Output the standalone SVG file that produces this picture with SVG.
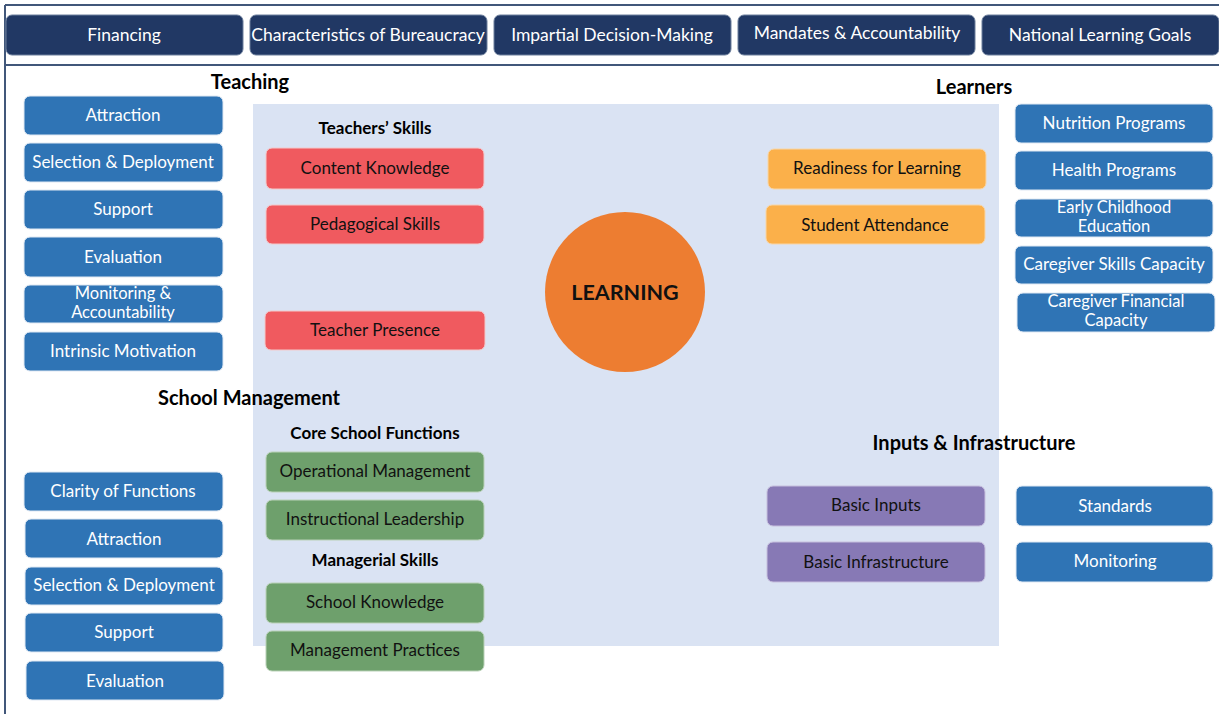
<svg xmlns="http://www.w3.org/2000/svg" width="1219" height="714" viewBox="0 0 1219 714">
  <style>
    text { font-family: Lato, "Liberation Sans", sans-serif; text-anchor: middle; dominant-baseline: central; }
    .top rect { fill: #213864; stroke: #6d7f9c; stroke-width: 1; }
    .top text { fill: #ffffff; font-size: 17.5px; }
    .blue rect { fill: #2f74b5; stroke: #dfe8f3; stroke-width: 1; }
    .blue text { fill: #ffffff; font-size: 17px; }
    .blue text.two { font-size: 16.5px; }
    .red rect { fill: #f05a5f; stroke: #f3c9cb; stroke-width: 1; }
    .orange rect { fill: #fbb04a; stroke: #f8d6a7; stroke-width: 1; }
    .green rect { fill: #6ea06c; stroke: #b9d1b7; stroke-width: 1; }
    .purple rect { fill: #8779b5; stroke: #c6bfdd; stroke-width: 1; }
    .dark text { fill: #111111; font-size: 17px; }
    .head { fill: #000000; font-size: 20px; font-weight: bold; }
    .sub { fill: #000000; font-size: 17px; font-weight: bold; }
    .frame { stroke: #41577a; stroke-width: 2; fill: none; }
  </style>

  <rect width="1219" height="714" fill="#ffffff"/>

  <!-- outer frame lines -->
  <g id="frame">
    <line class="frame" x1="5" y1="5" x2="1219" y2="5"/>
    <line class="frame" x1="5" y1="5" x2="5" y2="714"/>
    <line class="frame" x1="5" y1="65" x2="1219" y2="65"/>
  </g>

  <!-- system-level bar -->
  <g id="financing" class="top"><rect x="6" y="15" width="237" height="40" rx="6"/><text x="124" y="34">Financing</text></g>
  <g id="bureaucracy" class="top"><rect x="250" y="15" width="237" height="40" rx="6"/><text x="368" y="34">Characteristics of Bureaucracy</text></g>
  <g id="impartial" class="top"><rect x="494" y="15" width="237" height="40" rx="6"/><text x="612" y="34">Impartial Decision-Making</text></g>
  <g id="mandates" class="top"><rect x="738" y="15" width="237" height="40" rx="6"/><text x="857" y="32">Mandates &amp; Accountability</text></g>
  <g id="goals" class="top"><rect x="982" y="15" width="237" height="40" rx="6"/><text x="1100" y="34">National Learning Goals</text></g>

  <!-- central panel -->
  <rect id="panel" x="253" y="104" width="746" height="542" fill="#dae3f3"/>

  <!-- section headings -->
  <text class="head" x="250" y="81">Teaching</text>
  <text class="head" x="974" y="86">Learners</text>
  <text class="head" x="249" y="397">School Management</text>
  <text class="head" x="974" y="442">Inputs &amp; Infrastructure</text>
  <text class="sub" x="375" y="127">Teachers’ Skills</text>
  <text class="sub" x="375" y="432">Core School Functions</text>
  <text class="sub" x="375" y="559">Managerial Skills</text>

  <!-- Teaching: policy levers -->
  <g id="t-attraction" class="blue"><rect x="24" y="96" width="199" height="39" rx="6"/><text x="123" y="114">Attraction</text></g>
  <g id="t-selection" class="blue"><rect x="24" y="143" width="199" height="39" rx="6"/><text x="123" y="161">Selection &amp; Deployment</text></g>
  <g id="t-support" class="blue"><rect x="24" y="190" width="199" height="39" rx="6"/><text x="123" y="208">Support</text></g>
  <g id="t-evaluation" class="blue"><rect x="24" y="237" width="199" height="40" rx="6"/><text x="123" y="256">Evaluation</text></g>
  <g id="t-monitoring" class="blue"><rect x="24" y="285" width="199" height="38" rx="6"/><text class="two" x="123" y="293">Monitoring &amp;</text><text class="two" x="123" y="312">Accountability</text></g>
  <g id="t-motivation" class="blue"><rect x="24" y="332" width="199" height="39" rx="6"/><text x="123" y="350">Intrinsic Motivation</text></g>

  <!-- Teaching: practices -->
  <g id="content-knowledge" class="red dark"><rect x="266" y="148" width="218" height="41" rx="6"/><text x="375" y="167">Content Knowledge</text></g>
  <g id="pedagogical-skills" class="red dark"><rect x="266" y="205" width="218" height="39" rx="6"/><text x="375" y="223">Pedagogical Skills</text></g>
  <g id="teacher-presence" class="red dark"><rect x="265" y="311" width="220" height="39" rx="6"/><text x="375" y="329">Teacher Presence</text></g>

  <!-- centre -->
  <g id="learning">
    <circle cx="625" cy="292" r="80" fill="#ed7d31"/>
    <text x="625" y="292" style="font-size:21.5px;font-weight:bold;fill:#111111">LEARNING</text>
  </g>

  <!-- Learners: practices -->
  <g id="readiness" class="orange dark"><rect x="768" y="149" width="218" height="40" rx="6"/><text x="877" y="167">Readiness for Learning</text></g>
  <g id="attendance" class="orange dark"><rect x="766" y="205" width="219" height="39" rx="6"/><text x="875" y="224">Student Attendance</text></g>

  <!-- Learners: policy levers -->
  <g id="nutrition" class="blue"><rect x="1015" y="104" width="198" height="39" rx="6"/><text x="1114" y="122">Nutrition Programs</text></g>
  <g id="health" class="blue"><rect x="1015" y="151" width="198" height="39" rx="6"/><text x="1114" y="169">Health Programs</text></g>
  <g id="ecd" class="blue"><rect x="1015" y="199" width="198" height="38" rx="6"/><text class="two" x="1114" y="207">Early Childhood</text><text class="two" x="1114" y="226">Education</text></g>
  <g id="caregiver-skills" class="blue"><rect x="1015" y="246" width="198" height="38" rx="6"/><text x="1114" y="263">Caregiver Skills Capacity</text></g>
  <g id="caregiver-financial" class="blue"><rect x="1017" y="293" width="198" height="39" rx="6"/><text class="two" x="1116" y="301">Caregiver Financial</text><text class="two" x="1116" y="320">Capacity</text></g>

  <!-- School management: practices -->
  <g id="operational" class="green dark"><rect x="266" y="452" width="218" height="40" rx="6"/><text x="375" y="470">Operational Management</text></g>
  <g id="instructional" class="green dark"><rect x="266" y="500" width="218" height="40" rx="6"/><text x="375" y="518">Instructional Leadership</text></g>
  <g id="school-knowledge" class="green dark"><rect x="266" y="583" width="218" height="40" rx="6"/><text x="375" y="601">School Knowledge</text></g>
  <g id="management-practices" class="green dark"><rect x="266" y="631" width="218" height="40" rx="6"/><text x="375" y="649">Management Practices</text></g>

  <!-- School management: policy levers -->
  <g id="m-clarity" class="blue"><rect x="24" y="472" width="199" height="39" rx="6"/><text x="123" y="490">Clarity of Functions</text></g>
  <g id="m-attraction" class="blue"><rect x="25" y="519" width="198" height="39" rx="6"/><text x="124" y="538">Attraction</text></g>
  <g id="m-selection" class="blue"><rect x="25" y="567" width="198" height="38" rx="6"/><text x="124" y="584">Selection &amp; Deployment</text></g>
  <g id="m-support" class="blue"><rect x="25" y="613" width="198" height="39" rx="6"/><text x="124" y="631">Support</text></g>
  <g id="m-evaluation" class="blue"><rect x="26" y="661" width="198" height="39" rx="6"/><text x="125" y="680">Evaluation</text></g>

  <!-- Inputs & infrastructure: practices -->
  <g id="basic-inputs" class="purple dark"><rect x="767" y="486" width="218" height="40" rx="6"/><text x="876" y="504">Basic Inputs</text></g>
  <g id="basic-infrastructure" class="purple dark"><rect x="767" y="542" width="218" height="40" rx="6"/><text x="876" y="561">Basic Infrastructure</text></g>

  <!-- Inputs & infrastructure: policy levers -->
  <g id="standards" class="blue"><rect x="1016" y="486" width="197" height="40" rx="6"/><text x="1115" y="505">Standards</text></g>
  <g id="monitoring" class="blue"><rect x="1016" y="542" width="197" height="40" rx="6"/><text x="1115" y="560">Monitoring</text></g>

  <!-- no connectors are drawn in this figure -->
  <g id="connectors"/>
</svg>
